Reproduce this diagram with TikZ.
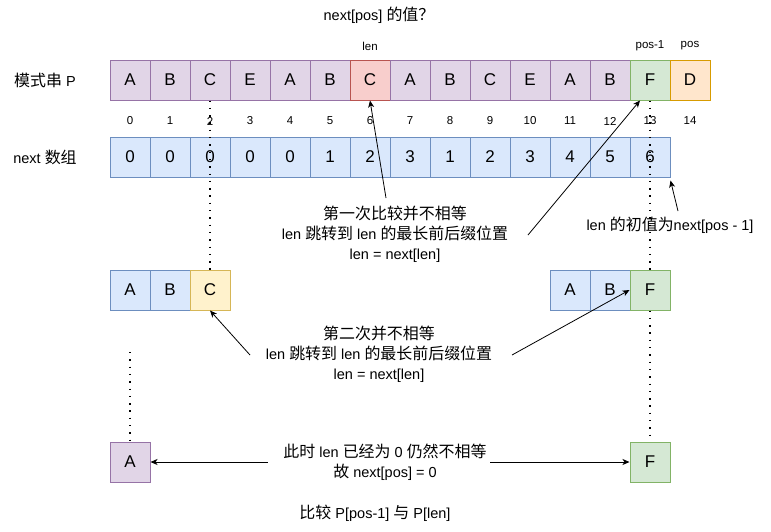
\documentclass[tikz,border=0pt]{standalone}
\usepackage{fontspec}
\setmainfont{Liberation Sans}
\newfontfamily\cjk[Scale=1.1]{Noto Sans CJK SC}
\newcommand\zw[1]{{\cjk #1}}
\usetikzlibrary{arrows.meta}

\definecolor{pfill}{HTML}{E1D5E7}\definecolor{pline}{HTML}{9673A6}
\definecolor{rfill}{HTML}{F8CECC}\definecolor{rline}{HTML}{B85450}
\definecolor{gfill}{HTML}{D5E8D4}\definecolor{gline}{HTML}{82B366}
\definecolor{ofill}{HTML}{FFE6CC}\definecolor{oline}{HTML}{D79B00}
\definecolor{bfill}{HTML}{DAE8FC}\definecolor{bline}{HTML}{6C8EBF}
\definecolor{yfill}{HTML}{FFF2CC}\definecolor{yline}{HTML}{D6B656}

\begin{document}
\begin{tikzpicture}[x=1pt,y=-1pt,
  every node/.style={font=\fontsize{14.5}{20}\selectfont},
  cell/.style={draw, line width=1pt, minimum width=40pt, minimum height=40pt,
    inner sep=0pt, font=\fontsize{17}{17}\selectfont},
  pcell/.style={cell, fill=pfill, draw=pline},
  rcell/.style={cell, fill=rfill, draw=rline},
  gcell/.style={cell, fill=gfill, draw=gline},
  ocell/.style={cell, fill=ofill, draw=oline},
  bcell/.style={cell, fill=bfill, draw=bline},
  ycell/.style={cell, fill=yfill, draw=yline},
  idx/.style={font=\fontsize{11.5}{12}\selectfont},
  txt/.style={align=center, font=\fontsize{14.5}{20}\selectfont},
  arr/.style={-{Stealth[length=7pt,width=6pt,inset=2pt]}, line width=0.8pt},
  dots/.style={line width=1.4pt, dash pattern=on 1.4pt off 5.9pt}
]
\fill[white] (0,0) rectangle (771,531);
\useasboundingbox (0,0) rectangle (771,531);

% title and row labels
\node[txt] (title) at (379,15) {next[pos] \zw{的值？}};
\node[txt] (lblP) at (45,80) {\zw{模式串} P};
\node[txt] (lblN) at (45,157) {next \zw{数组}};

% pattern string P
\foreach \i/\ch/\st in {0/A/pcell,1/B/pcell,2/C/pcell,3/E/pcell,4/A/pcell,
    5/B/pcell,6/C/rcell,7/A/pcell,8/B/pcell,9/C/pcell,10/E/pcell,11/A/pcell,
    12/B/pcell,13/F/gcell,14/D/ocell}{
  \node[\st] (p\i) at (130+40*\i,80) {\ch};
  \node[idx] (i\i) at (130+40*\i,121) {\i};
}
\node[idx] (lenlbl) at (370,46) {len};
\node[idx] (pos1lbl) at (650,46) {pos-1};
\node[idx] (poslbl) at (690,46) {pos};

% next array
\foreach \i/\v in {0/0,1/0,2/0,3/0,4/0,5/1,6/2,7/3,8/1,9/2,10/3,11/4,12/5,13/6}{
  \node[bcell] (n\i) at (130+40*\i,157) {\v};
}

% second row of comparison
\node[bcell] (a1) at (130,290) {A};
\node[bcell] (b1) at (170,290) {B};
\node[ycell] (c1) at (210,290) {C};
\node[bcell] (a2) at (570,290) {A};
\node[bcell] (b2) at (610,290) {B};
\node[gcell] (f2) at (650,290) {F};

% last comparison
\node[pcell] (ab) at (130,462) {A};
\node[gcell] (fb) at (650,462) {F};

% dotted guides
\draw[dots] (p2.south) -- (c1.north);
\draw[dots] (p13.south) -- (f2.north);
\draw[dots] (f2.south) -- (fb.north);
\coordinate (dA) at (130,352);
\draw[dots] (dA) -- (ab.north);

% explanations
\node[txt] (t1) at (395,234) {\zw{第一次比较并不相等}\\len \zw{跳转到} len \zw{的最长前后缀位置}\\len = next[len]};
\node[txt] (tinit) at (670,225) {len \zw{的初值为}next[pos - 1]};
\node[txt] (t2) at (379,354) {\zw{第二次并不相等}\\len \zw{跳转到} len \zw{的最长前后缀位置}\\len = next[len]};
\node[txt] (t3) at (385,462) {\zw{此时} len \zw{已经为} 0 \zw{仍然不相等}\\\zw{故} next[pos] = 0};
\node[txt] (tcmp) at (375,513) {\zw{比较} P[pos-1] \zw{与} P[len]};

% arrows
\coordinate (s1) at (386,198);
\coordinate (s2) at (528,235);
\coordinate (s3) at (678,211);
\coordinate (s4) at (250,355);
\coordinate (s5) at (512,355);
\draw[arr] (s1) -- (p6.south);
\draw[arr] (s2) -- ([xshift=-10pt]p13.south);
\draw[arr] (s3) -- ([yshift=-3pt]n13.south east);
\draw[arr] (s4) -- (c1.south);
\draw[arr] (s5) -- (f2.west);
\draw[arr] ([xshift=-12pt]t3.west) -- (ab.east);
\draw[arr] ([xshift=0pt]t3.east) -- (fb.west);
\end{tikzpicture}
\end{document}
